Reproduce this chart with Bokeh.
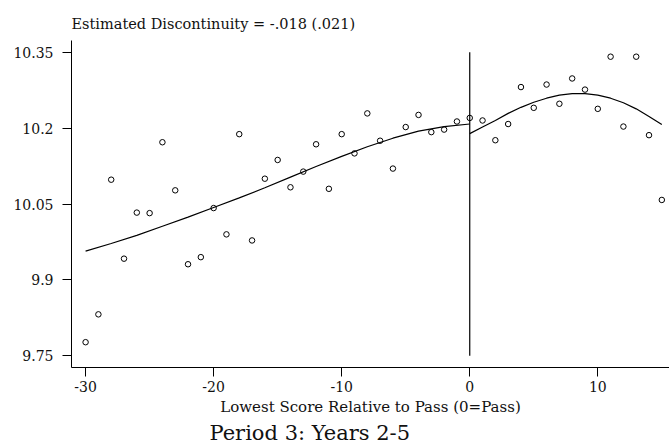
from bokeh.plotting import figure
from bokeh.models import Range1d, FixedTicker, CustomJSTickFormatter, Title
from bokeh.embed import file_html
from bokeh.resources import INLINE

# binned means: lowest score relative to pass vs. log earnings
score = [-30, -29, -28, -27, -26, -25, -24, -23, -22, -21, -20, -19, -18, -17, -16,
         -15, -14, -13, -12, -11, -10, -9, -8, -7, -6, -5, -4, -3, -2, -1, 0,
         1, 2, 3, 4, 5, 6, 7, 8, 9, 10, 11, 12, 13, 14, 15]
earnings = [9.777, 9.832, 10.098, 9.942, 10.033, 10.032, 10.172, 10.077, 9.931, 9.945,
            10.042, 9.990, 10.188, 9.978, 10.100, 10.137, 10.083, 10.114, 10.168, 10.080,
            10.188, 10.150, 10.229, 10.175, 10.120, 10.202, 10.226, 10.192, 10.197, 10.213,
            10.220, 10.215, 10.176, 10.208, 10.281, 10.240, 10.286, 10.248, 10.298, 10.276,
            10.238, 10.341, 10.203, 10.341, 10.186, 10.058]

# fitted curves either side of the cutoff
fit_left_x = [-30, -28, -26, -24, -22, -20, -18, -16, -14, -12, -10, -8, -6, -4, -2, 0]
fit_left_y = [9.957, 9.972, 9.988, 10.006, 10.024, 10.043, 10.062, 10.082, 10.103,
              10.124, 10.144, 10.163, 10.180, 10.194, 10.203, 10.208]
fit_right_x = [0, 1, 2, 3, 4, 5, 6, 7, 8, 9, 10, 11, 12, 13, 14, 15]
fit_right_y = [10.189, 10.202, 10.215, 10.229, 10.241, 10.251, 10.259, 10.265, 10.268,
               10.268, 10.265, 10.259, 10.250, 10.238, 10.223, 10.207]

cutoff_x = [0, 0]
cutoff_y = [9.75, 10.35]

x_ticks = [-30, -20, -10, 0, 10]
y_ticks = [9.75, 9.9, 10.05, 10.2, 10.35]

FONT = "DejaVu Serif"

p = figure(width=669, height=444, output_backend="svg", toolbar_location=None,
           x_range=Range1d(-31.1, 15.6), y_range=Range1d(9.727, 10.373),
           min_border_left=71, min_border_right=0, min_border_top=40, min_border_bottom=70,
           background_fill_color="white", border_fill_color="white")

p.title.text = "Estimated Discontinuity = -.018 (.021)"
p.title.align = "left"
p.title.text_font = FONT
p.title.text_font_size = "14.5px"
p.title.text_font_style = "normal"
p.title.text_color = "#111111"
p.title.standoff = 18

p.outline_line_color = None
p.xgrid.visible = False
p.ygrid.visible = False

p.scatter(score, earnings, marker="circle", size=5.5, fill_color=None,
          line_color="black", line_width=1)
p.line(fit_left_x, fit_left_y, line_color="black", line_width=1.2)
p.line(fit_right_x, fit_right_y, line_color="black", line_width=1.2)
p.line(cutoff_x, cutoff_y, line_color="black", line_width=1.2)

p.xaxis.ticker = FixedTicker(ticks=x_ticks)
p.yaxis.ticker = FixedTicker(ticks=y_ticks)
p.xaxis.formatter = CustomJSTickFormatter(code="return String(tick);")
p.yaxis.formatter = CustomJSTickFormatter(code="return tick.toFixed(2).replace(/0$/, '');")
p.xaxis.axis_label = "Lowest Score Relative to Pass (0=Pass)"

for ax in (p.xaxis[0], p.yaxis[0]):
    ax.major_label_text_font = FONT
    ax.major_label_text_font_size = "14px"
    ax.major_label_text_color = "#111111"
    ax.axis_label_text_font = FONT
    ax.axis_label_text_font_size = "15px"
    ax.axis_label_text_font_style = "normal"
    ax.axis_label_text_color = "#111111"
    ax.minor_tick_line_color = None
    ax.major_tick_out = 9
    ax.major_tick_in = 0
    ax.axis_line_color = "black"
    ax.major_tick_line_color = "black"

p.yaxis.major_label_standoff = 9
p.xaxis.major_label_standoff = 4
p.xaxis.axis_label_standoff = 3

p.add_layout(Title(text="Period 3: Years 2-5", align="left", offset=138, standoff=0,
                   text_font=FONT, text_font_size="21px", text_font_style="normal",
                   text_color="#111111"), "below")

open("out.html", "w").write(file_html(p, INLINE))
